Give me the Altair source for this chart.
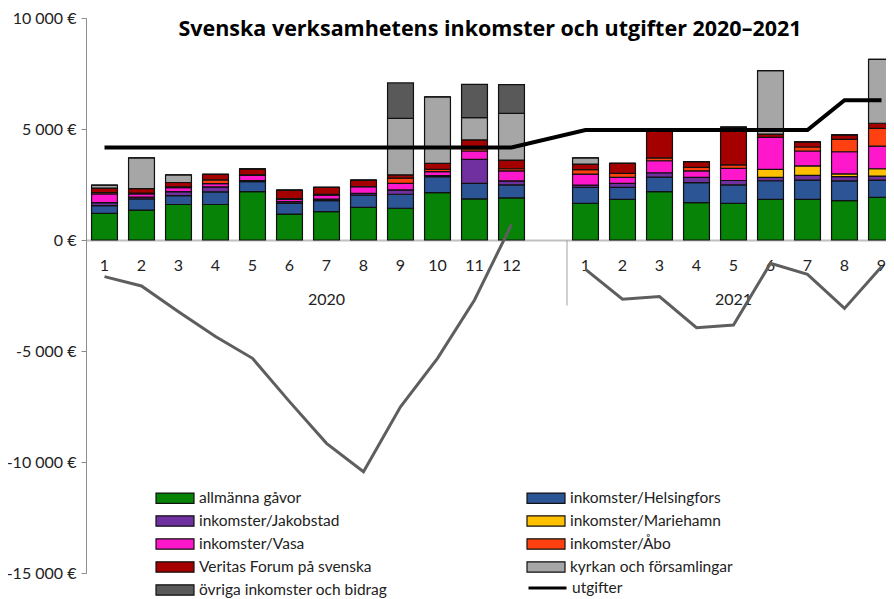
import altair as alt
import pandas as pd

# ---------------- data ----------------
months_2020 = [str(m) for m in range(1, 13)]
months_2021 = [str(m) for m in range(1, 10)]
slots = [f"2020-{m}" for m in months_2020] + ["2020-13"] + [f"2021-{m}" for m in months_2021]

categories = [
    "allmänna gåvor",
    "inkomster/Helsingfors",
    "inkomster/Jakobstad",
    "inkomster/Mariehamn",
    "inkomster/Vasa",
    "inkomster/Åbo",
    "Veritas Forum på svenska",
    "kyrkan och församlingar",
    "övriga inkomster och bidrag",
]
colors = ["#078307", "#2b5594", "#7030a0", "#ffc000", "#ff17cc",
          "#ff4010", "#a50000", "#a6a6a6", "#595959"]

allmanna_2020 = [1200, 1350, 1600, 1600, 2180, 1170, 1280, 1470, 1430, 2130, 1850, 1900]
helsingfors_2020 = [350, 500, 400, 570, 450, 480, 490, 550, 630, 720, 700, 580]
jakobstad_2020 = [130, 80, 180, 220, 50, 80, 75, 80, 195, 50, 1080, 180]
mariehamn_2020 = [0, 0, 0, 0, 0, 0, 0, 0, 0, 0, 0, 0]
vasa_2020 = [400, 150, 180, 150, 230, 100, 180, 300, 300, 180, 380, 450]
abo_2020 = [60, 30, 30, 170, 30, 40, 30, 0, 230, 100, 100, 100]
veritas_2020 = [200, 200, 200, 250, 260, 380, 320, 300, 150, 270, 400, 390]
kyrkan_2020 = [130, 1390, 340, 0, 0, 0, 0, 0, 2540, 3000, 1000, 2100]
ovriga_2020 = [0, 0, 0, 0, 0, 0, 0, 0, 1600, 0, 1500, 1300]

allmanna_2021 = [1650, 1830, 2180, 1680, 1650, 1830, 1830, 1770, 1920]
helsingfors_2021 = [720, 540, 650, 900, 830, 840, 870, 890, 780]
jakobstad_2021 = [100, 180, 200, 240, 200, 150, 210, 195, 180]
mariehamn_2021 = [0, 0, 0, 0, 0, 360, 430, 120, 330]
vasa_2021 = [500, 270, 540, 290, 550, 1440, 670, 1000, 1020]
abo_2021 = [200, 180, 130, 160, 150, 0, 180, 560, 800]
veritas_2021 = [250, 450, 1300, 260, 1700, 150, 230, 200, 230]
kyrkan_2021 = [280, 0, 0, 0, 0, 2860, 0, 0, 2880]
ovriga_2021 = [0, 0, 0, 0, 0, 0, 0, 0, 0]

utgifter_2020 = [4170] * 12
utgifter_2021 = [4950, 4950, 4950, 4950, 4950, 4950, 4950, 6300, 6300]

resultat_2020 = [-1650, -2070, -3230, -4350, -5330, -7280, -9160, -10440, -7510, -5330, -2700, 700]
resultat_2021 = [-1320, -2670, -2550, -3950, -3830, -1050, -1545, -3080, -1200]

years = ["2020", "2021"]
year_center_slots = ["2020-7", "2021-5"]

# ---------------- tables ----------------
series_2020 = [allmanna_2020, helsingfors_2020, jakobstad_2020, mariehamn_2020, vasa_2020,
               abo_2020, veritas_2020, kyrkan_2020, ovriga_2020]
series_2021 = [allmanna_2021, helsingfors_2021, jakobstad_2021, mariehamn_2021, vasa_2021,
               abo_2021, veritas_2021, kyrkan_2021, ovriga_2021]

rows = []
for ci, cat in enumerate(categories):
    for m, v in zip(months_2020, series_2020[ci]):
        rows.append({"slot": f"2020-{m}", "kategori": cat, "ord": ci, "belopp": v})
    for m, v in zip(months_2021, series_2021[ci]):
        rows.append({"slot": f"2021-{m}", "kategori": cat, "ord": ci, "belopp": v})
bars_df = pd.DataFrame(rows)

utg_df = pd.DataFrame({
    "slot": [f"2020-{m}" for m in months_2020] + [f"2021-{m}" for m in months_2021],
    "belopp": utgifter_2020 + utgifter_2021,
    "serie": "utgifter",
})
res_df = pd.DataFrame({
    "slot": [f"2020-{m}" for m in months_2020] + [f"2021-{m}" for m in months_2021],
    "belopp": resultat_2020 + resultat_2021,
    "ar": ["2020"] * 12 + ["2021"] * 9,
})
year_df = pd.DataFrame({"slot": year_center_slots, "ar": years, "y": [-2700, -2700]})
sep_df = pd.DataFrame({"slot": ["2021-1"], "y": [0], "y2": [-2950]})
title_df = pd.DataFrame({"t": ["Svenska verksamhetens inkomster och utgifter 2020–2021"]})

# ---------------- chart ----------------
W, H = 814, 555
FONT = "Lato"
STEP = W / len(slots)

x_scale = alt.Scale(domain=slots, paddingInner=0.3, paddingOuter=0.15)
y_scale = alt.Scale(domain=[-15000, 10000], nice=False)

x_axis = alt.Axis(
    title=None, orient="bottom", offset=-H * 0.6, ticks=False,
    domainColor="#c0c0c0", domainWidth=2,
    labelExpr="split(datum.value, '-')[1] == '13' ? '' : split(datum.value, '-')[1]",
    labelFont=FONT, labelFontSize=16, labelColor="#222222", labelPadding=17, labelAngle=0,
)
y_axis = alt.Axis(
    title=None, values=[-15000, -10000, -5000, 0, 5000, 10000], grid=False,
    domainColor="#8c8c8c", tickColor="#8c8c8c", tickSize=5, labelPadding=5,
    labelFont=FONT, labelFontSize=16, labelColor="#222222",
    labelExpr="(datum.value < 0 ? '-' : '') + replace(format(abs(datum.value), ','), ',', ' ') + ' €'",
)

rect_path = "M-1,-0.27L1,-0.27L1,0.27L-1,0.27Z"
LX, ROW = 69, 22.5
LY = 480 - ROW / 2

bars = alt.Chart(bars_df).mark_bar(stroke="#111111", strokeWidth=1.2).encode(
    x=alt.X("slot:N", scale=x_scale, axis=x_axis, sort=slots),
    y=alt.Y("belopp:Q", scale=y_scale, axis=y_axis, stack="zero"),
    fill=alt.Fill("kategori:N", scale=alt.Scale(domain=categories, range=colors),
                  legend=alt.Legend(
                      title=None, orient="none", legendX=LX, legendY=LY, columns=2,
                      direction="horizontal",
                      columnPadding=138, rowPadding=0, clipHeight=ROW, padding=0,
                      symbolType=rect_path, symbolSize=1444, symbolStrokeColor="#111111",
                      symbolStrokeWidth=1.2, labelFont=FONT, labelFontSize=15.5,
                      labelColor="#222222", labelOffset=4, labelLimit=400)),
    order=alt.Order("ord:Q", sort="ascending"),
)

utg = alt.Chart(utg_df).mark_line(strokeWidth=4).encode(
    x=alt.X("slot:N", scale=x_scale, sort=slots),
    y=alt.Y("belopp:Q", scale=y_scale),
    stroke=alt.Stroke("serie:N", scale=alt.Scale(domain=["utgifter"], range=["#000000"]),
                      legend=alt.Legend(
                          title=None, orient="none", legendX=LX + 372, legendY=LY + 4 * ROW,
                          padding=0, clipHeight=ROW, symbolType="stroke", symbolSize=1444,
                          symbolStrokeWidth=3, labelFont=FONT, labelFontSize=15.5,
                          labelColor="#222222", labelOffset=4, labelLimit=400)),
)

res = alt.Chart(res_df).mark_line(color="#5e5e5e", strokeWidth=3).encode(
    x=alt.X("slot:N", scale=x_scale, sort=slots),
    y=alt.Y("belopp:Q", scale=y_scale),
    detail="ar:N",
)

year_txt = alt.Chart(year_df).mark_text(font=FONT, fontSize=16, color="#222222").encode(
    x=alt.X("slot:N", scale=x_scale, sort=slots),
    y=alt.Y("y:Q", scale=y_scale),
    text="ar:N",
)

sep = alt.Chart(sep_df).mark_rule(color="#a0a0a0", strokeWidth=1, xOffset=-0.15 * STEP).encode(
    x=alt.X("slot:N", scale=x_scale, sort=slots, bandPosition=0),
    y=alt.Y("y:Q", scale=y_scale),
    y2="y2:Q",
)

title = alt.Chart(title_df).mark_text(font="Open Sans", fontSize=21.5, fontWeight="bold",
                                      color="#000000").encode(
    x=alt.value(404),
    y=alt.value(12),
    text="t:N",
)

chart = alt.layer(bars, sep, year_txt, utg, res, title).properties(
    width=W, height=H,
    autosize=alt.AutoSizeParams(type="none"),
    padding={"left": 78, "top": 10, "right": -14, "bottom": 26},
).configure_view(stroke=None)

chart.save("out.html", embed_options={"renderer": "svg", "actions": False})
